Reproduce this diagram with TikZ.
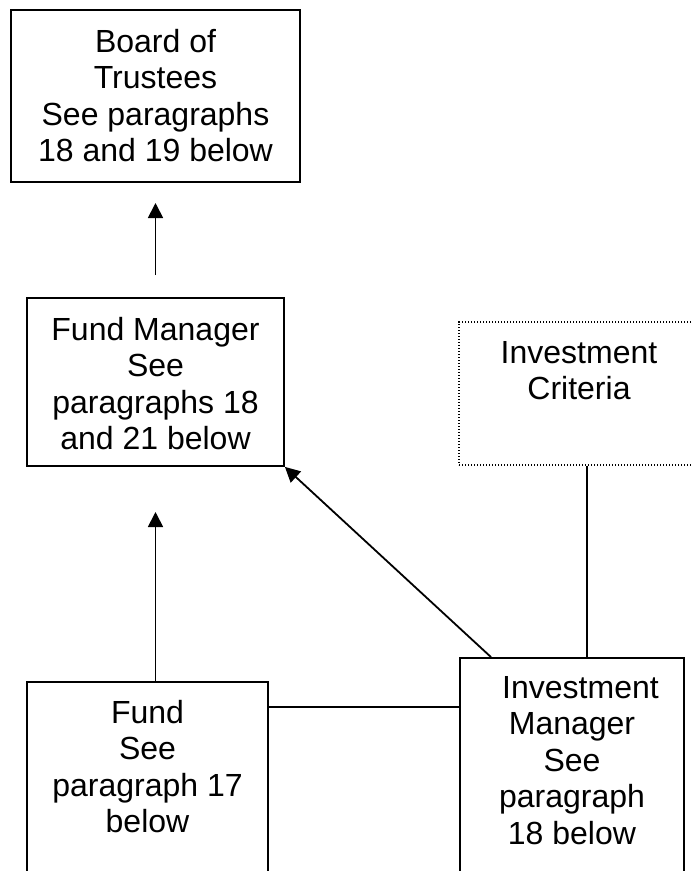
\documentclass[tikz,border=0pt]{standalone}
\usepackage{fontspec}
\setmainfont{Liberation Sans}
\usetikzlibrary{arrows.meta}
\begin{document}
\begin{tikzpicture}[x=1pt,y=-1pt,
  box/.style={draw, line width=1.8pt, inner sep=0pt, rectangle},
  dotbox/.style={draw, line width=1.2pt, dash pattern=on 1.2pt off 1.8pt, inner sep=0pt, rectangle},
  txt/.style={align=center, inner sep=0pt, anchor=north, font=\fontsize{32}{36.5}\selectfont},
  conn/.style={line width=1.8pt},
  arr/.style={line width=1.8pt, -{Triangle[length=15pt,width=15pt]}}]
\useasboundingbox (0,0) rectangle (693,871);
% boxes
\node[box, minimum width=289pt, minimum height=172pt] (board) at (155.5,96) {};
\node[box, minimum width=257pt, minimum height=168pt] (fm) at (155.5,382) {};
\node[dotbox, minimum width=301pt, minimum height=143pt] (ic) at (609.5,393.5) {};
\node[box, minimum width=241pt, minimum height=218pt] (fund) at (147.5,791) {};
\node[box, minimum width=224pt, minimum height=242pt] (im) at (572,779) {};
% texts
\node[txt] (boardt) at (155.5,29) {Board of\\Trustees\\See paragraphs\\18 and 19 below};
\node[txt] (fmt) at (155.5,317) {Fund Manager\\See\\paragraphs 18\\and 21 below};
\node[txt] (ict) at (579,341) {Investment\\Criteria};
\node[txt] (fundt) at (147.5,700) {Fund\\See\\paragraph 17\\below};
\node[txt] (imt) at (572,676) {\hspace*{17pt}Investment\\Manager\\See\\paragraph\\18 below};
% connector coordinates
\coordinate (a1tail) at (155.5,275);
\coordinate (a1tip) at (155.5,203);
\coordinate (a2tip) at (155.5,512);
\coordinate (diag) at (491,0);
\coordinate (vx) at (587,0);
\coordinate (hy) at (0,707);
% connectors
\draw[arr] (a1tail) -- (a1tip);
\draw[arr] (fund.north -| a2tip) -- (a2tip);
\draw[arr] (im.north -| diag) -- (fm.south east);
\draw[conn] (ic.south -| vx) -- (im.north -| vx);
\draw[conn] (fund.east |- hy) -- (im.west |- hy);
\end{tikzpicture}
\end{document}
